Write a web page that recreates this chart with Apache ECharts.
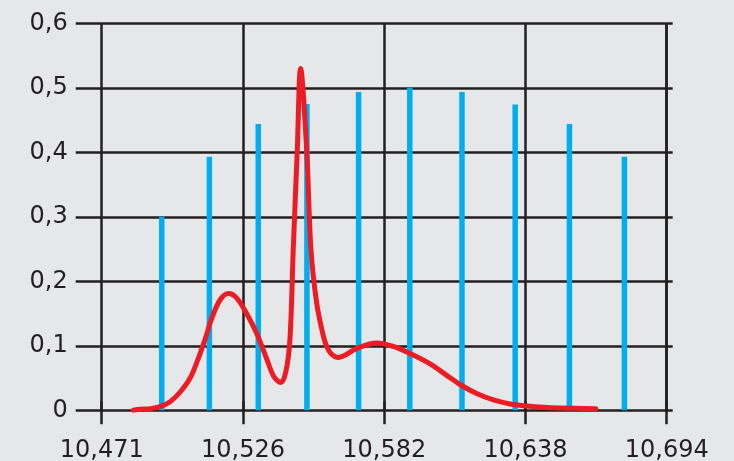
<!DOCTYPE html>
<html>
<head>
<meta charset="utf-8">
<script src="https://cdn.jsdelivr.net/npm/echarts@6/dist/echarts.min.js"></script>
<style>
html,body{margin:0;padding:0;background:#E6E7E8;}
#chart{width:734px;height:461px;}
</style>
</head>
<body>
<div id="chart"></div>
<script>
var xTickLabels = ['10,471', '10,526', '10,582', '10,638', '10,694'];
var yTickLabels = ['0', '0,1', '0,2', '0,3', '0,4', '0,5', '0,6'];

var barX = [10.4947, 10.5135, 10.5328, 10.5520, 10.5724, 10.5926, 10.6132, 10.6342, 10.6556, 10.6773];
var barY = [0.300, 0.393, 0.444, 0.475, 0.4935, 0.500, 0.4935, 0.474, 0.444, 0.393];

var curveX = [10.4835, 10.4861, 10.4901, 10.4940, 10.4980, 10.5019, 10.5059, 10.5091, 10.5118, 10.5144,
  10.5177, 10.5210, 10.5243, 10.5282, 10.5322, 10.5361, 10.5390, 10.5417, 10.5437, 10.5453,
  10.5466, 10.5482, 10.5495, 10.5519, 10.5536, 10.5559, 10.5585, 10.5599, 10.5615, 10.5644,
  10.5717, 10.5795, 10.5861, 10.5927, 10.6006, 10.6069, 10.6124, 10.6190, 10.6256, 10.6322,
  10.6388, 10.6453, 10.6519, 10.6661];
var curveY = [0.000, 0.0015, 0.0025, 0.0056, 0.0133, 0.028, 0.050, 0.080, 0.110, 0.142,
  0.171, 0.181, 0.174, 0.150, 0.119, 0.080, 0.052, 0.043, 0.060, 0.110,
  0.249, 0.404, 0.530, 0.404, 0.249, 0.165, 0.115, 0.098, 0.088, 0.082,
  0.096, 0.1045, 0.099, 0.088, 0.072, 0.055, 0.040, 0.026, 0.016, 0.0098,
  0.0067, 0.0047, 0.0036, 0.0025];

var X_MIN = 10.471, X_MAX = 10.694;
var X_INT = (X_MAX - X_MIN) / 4;

var ink = '#231F20';
var font = 'DejaVu Sans';

function xLabel(v, i) {
  var k = Math.round((v - X_MIN) / X_INT);
  return xTickLabels[k] !== undefined ? xTickLabels[k] : '';
}
function yLabel(v, i) {
  var k = Math.round(v / 0.1);
  return yTickLabels[k] !== undefined ? yTickLabels[k] : '';
}

var chart = echarts.init(document.getElementById('chart'), null, {renderer: 'canvas'});
var barData = barX.map(function (x, i) { return [x, barY[i]]; });
var curveData = curveX.map(function (x, i) { return [x, curveY[i]]; });

var xBase = {
  type: 'value', min: X_MIN, max: X_MAX, interval: X_INT,
  axisLine: {show: false}
};
var yBase = {
  type: 'value', min: 0, max: 0.6, interval: 0.1,
  axisLine: {show: false}
};

chart.setOption({
  backgroundColor: '#E6E7E8',
  animation: false,
  grid: {left: 101.7, right: 67.3, top: 23.3, bottom: 50.7, containLabel: false, outerBoundsMode: 'none'},
  xAxis: [
    Object.assign({}, xBase, {
      position: 'bottom',
      axisTick: {show: true, inside: false, length: 14, lineStyle: {color: ink, width: 2.5}},
      axisLabel: {show: true, formatter: xLabel, margin: 28, color: ink, fontSize: 24, fontFamily: font,
        showMinLabel: true, showMaxLabel: true, hideOverlap: false},
      splitLine: {show: true, lineStyle: {color: ink, width: 2.5}}
    }),
    Object.assign({}, xBase, {
      position: 'top',
      axisTick: {show: true, inside: false, length: 9, lineStyle: {color: ink, width: 2.5}},
      axisLabel: {show: false},
      splitLine: {show: false}
    })
  ],
  yAxis: [
    Object.assign({}, yBase, {
      position: 'left',
      axisTick: {show: true, inside: false, length: 26, lineStyle: {color: ink, width: 2.5}},
      axisLabel: {show: true, formatter: yLabel, margin: 34, color: ink, fontSize: 24, fontFamily: font,
        showMinLabel: true, showMaxLabel: true, padding: [0, 0, 8, 0]},
      splitLine: {show: true, lineStyle: {color: ink, width: 2.5}}
    }),
    Object.assign({}, yBase, {
      position: 'right',
      axisTick: {show: true, inside: false, length: 6, lineStyle: {color: ink, width: 2.5}},
      axisLabel: {show: false},
      splitLine: {show: false}
    })
  ],
  series: [
    {
      type: 'bar', xAxisIndex: 0, yAxisIndex: 0,
      data: barData, barWidth: 5.5,
      itemStyle: {color: '#00AEEF'},
      z: 3
    },
    {
      type: 'line', xAxisIndex: 0, yAxisIndex: 0,
      data: curveData, smooth: 0.35, showSymbol: false, symbol: 'none',
      lineStyle: {color: '#ED1C24', width: 5, cap: 'round', join: 'round'},
      z: 4
    }
  ]
});
</script>
</body>
</html>
